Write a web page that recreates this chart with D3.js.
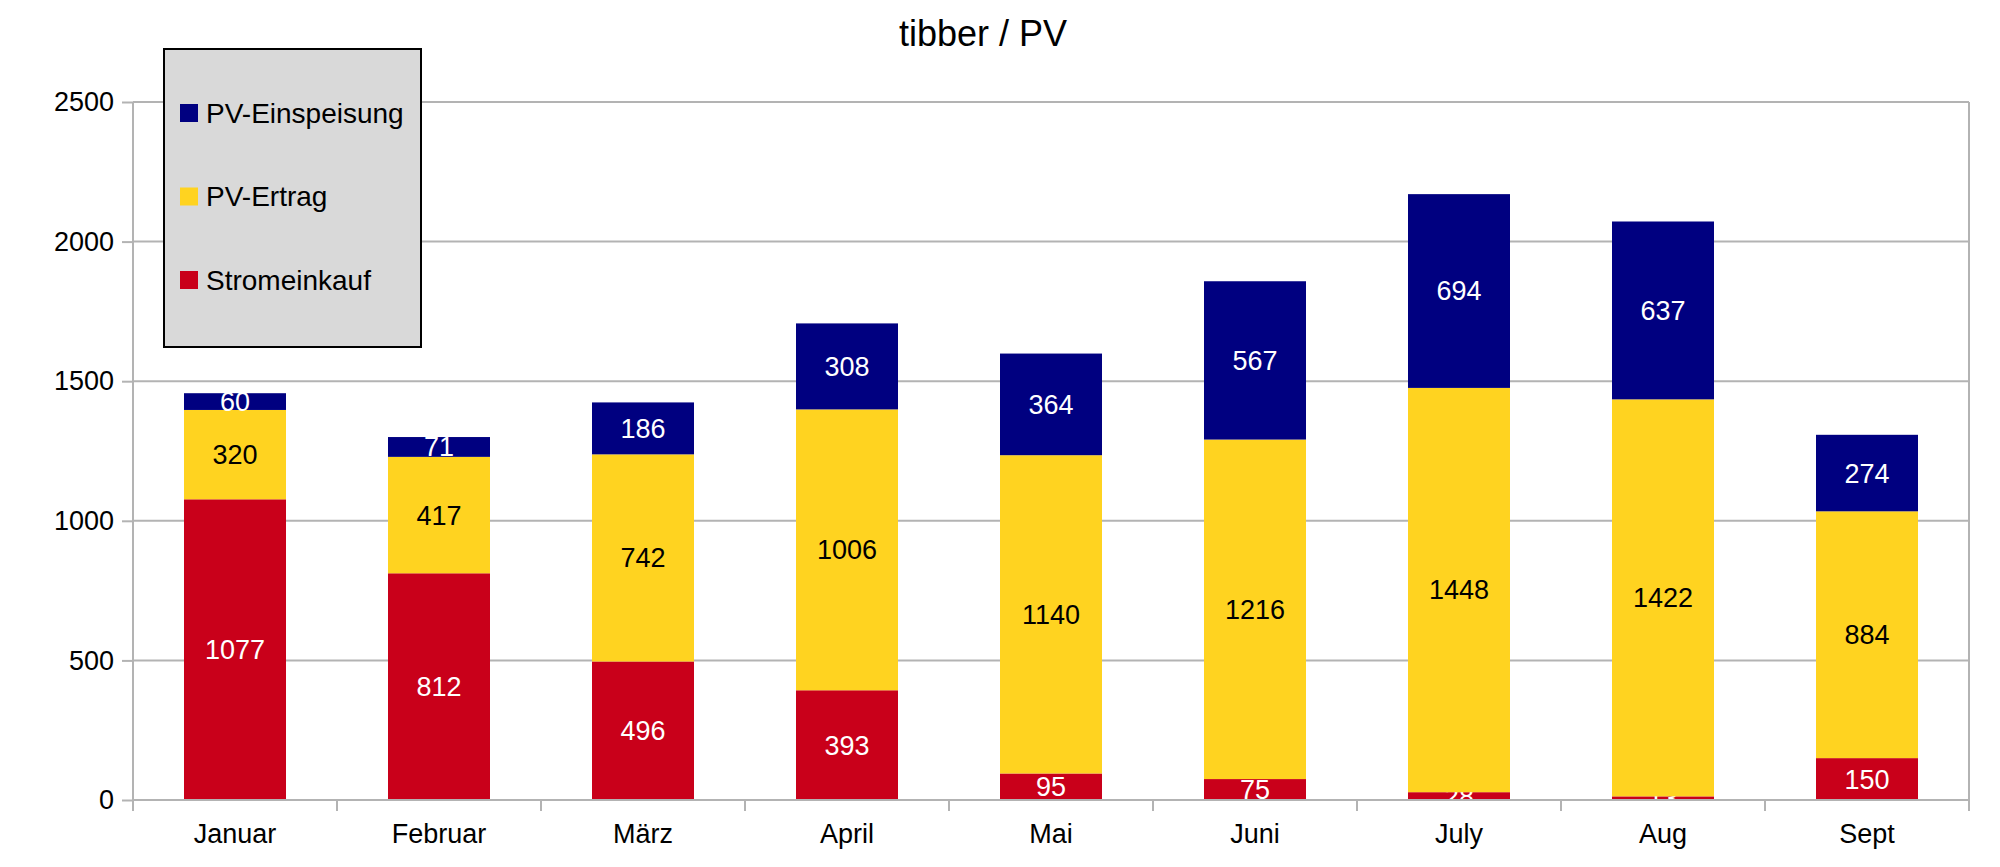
<!DOCTYPE html>
<html>
<head>
<meta charset="utf-8">
<script src="https://cdn.jsdelivr.net/npm/d3@7"></script>
<style>
    body { margin: 0; background: #fff; }
    svg { font-family: "Liberation Sans", Arial, sans-serif; }
</style>
</head>
<body>
<svg id="chart" width="2000" height="867"></svg>
<script>
// data
const months= ["Januar", "Februar", "März", "April", "Mai", "Juni", "July", "Aug", "Sept"]
const stromeinkauf= [1077, 812, 496, 393, 95, 75, 28, 13, 150]
const pv_ertrag= [320, 417, 742, 1006, 1140, 1216, 1448, 1422, 884]
const pv_einspeisung= [60, 71, 186, 308, 364, 567, 694, 637, 274]
const y_ticks= [0, 500, 1000, 1500, 2000, 2500]

const series= [
    {name: "Stromeinkauf", values: stromeinkauf, color: "#c9001a", text: "#fff"},
    {name: "PV-Ertrag", values: pv_ertrag, color: "#ffd320", text: "#000"},
    {name: "PV-Einspeisung", values: pv_einspeisung, color: "#000080", text: "#fff"},
]

const plot= {left: 133, right: 1969, top: 102, bottom: 800}
const font_size= 27

const svg= d3.select("#chart")

const x= d3.scaleBand().domain(months).range([plot.left, plot.right]).paddingInner(0.5).paddingOuter(0.25)
const y= d3.scaleLinear().domain([0, 2500]).range([plot.bottom, plot.top])

// gridlines
svg.append("g")
    .selectAll("line")
    .data(y_ticks.slice(1))
    .join("line")
    .attr("x1", plot.left).attr("x2", plot.right)
    .attr("y1", d => y(d)).attr("y2", d => y(d))
    .attr("stroke", "#b3b3b3").attr("stroke-width", 2)

// right border
svg.append("line")
    .attr("x1", plot.right).attr("x2", plot.right)
    .attr("y1", plot.top).attr("y2", plot.bottom + 11)
    .attr("stroke", "#b3b3b3").attr("stroke-width", 2)

// stacks
const stacked= d3.stack()
    .keys(series.map((s, i) => i))
    .value((d, k) => series[k].values[d])(months.map((m, i) => i))

const layers= svg.append("g")
    .selectAll("g")
    .data(stacked)
    .join("g")
    .attr("fill", (d, i) => series[i].color)

layers.selectAll("rect")
    .data(d => d)
    .join("rect")
    .attr("x", d => x(months[d.data]))
    .attr("width", x.bandwidth())
    .attr("y", d => y(d[1]))
    .attr("height", d => y(d[0]) - y(d[1]))

// y axis
const y_axis= svg.append("g")
    .attr("transform", `translate(${plot.left},0)`)
    .call(d3.axisLeft(y).tickValues(y_ticks).tickFormat(d3.format("d")).tickSize(11).tickPadding(8))
y_axis.selectAll("line, path").attr("stroke", "#b3b3b3").attr("stroke-width", 2)
y_axis.select(".domain").attr("d", `M0,${plot.top}V${plot.bottom + 11}`)
y_axis.selectAll("text").attr("font-size", font_size).attr("fill", "#000")
    .attr("font-family", "Liberation Sans, Arial, sans-serif")

// x axis
const x_axis= svg.append("g")
    .attr("transform", `translate(0,${plot.bottom})`)
    .call(d3.axisBottom(x).tickSize(0).tickPadding(24))
x_axis.select(".domain").attr("stroke", "#b3b3b3").attr("stroke-width", 2)
    .attr("d", `M${plot.left},0H${plot.right}`)
x_axis.selectAll("text").attr("font-size", font_size).attr("fill", "#000")
    .attr("font-family", "Liberation Sans, Arial, sans-serif")

// category separator ticks
const step= x.step()
svg.append("g")
    .selectAll("line")
    .data(d3.range(1, months.length))
    .join("line")
    .attr("x1", i => plot.left + i*step).attr("x2", i => plot.left + i*step)
    .attr("y1", plot.bottom).attr("y2", plot.bottom + 11)
    .attr("stroke", "#b3b3b3").attr("stroke-width", 2)

// data labels (drawn over the axis)
layers.each(function(layer, i) {
    d3.select(this).selectAll("text")
        .data(layer)
        .join("text")
        .attr("x", d => x(months[d.data]) + x.bandwidth()/2)
        .attr("y", d => (y(d[0]) + y(d[1]))/2)
        .attr("dy", "0.35em")
        .attr("text-anchor", "middle")
        .attr("font-size", font_size)
        .attr("fill", series[i].text)
        .text(d => series[i].values[d.data])
})
layers.raise()

// title
svg.append("text")
    .attr("x", 983).attr("y", 46)
    .attr("text-anchor", "middle")
    .attr("font-size", 36)
    .text("tibber / PV")

// legend
const legend= svg.append("g")
legend.append("rect")
    .attr("x", 164).attr("y", 49)
    .attr("width", 257).attr("height", 298)
    .attr("fill", "#d9d9d9").attr("stroke", "#000").attr("stroke-width", 2)

const legend_items= legend.selectAll("g")
    .data(series.slice().reverse())
    .join("g")
    .attr("transform", (d, i) => `translate(180,${113 + i*83.5})`)
legend_items.append("rect")
    .attr("x", 0).attr("y", -9)
    .attr("width", 18).attr("height", 18)
    .attr("fill", d => d.color)
legend_items.append("text")
    .attr("x", 26).attr("dy", "0.35em")
    .attr("font-size", 28)
    .text(d => d.name)
</script>
</body>
</html>
